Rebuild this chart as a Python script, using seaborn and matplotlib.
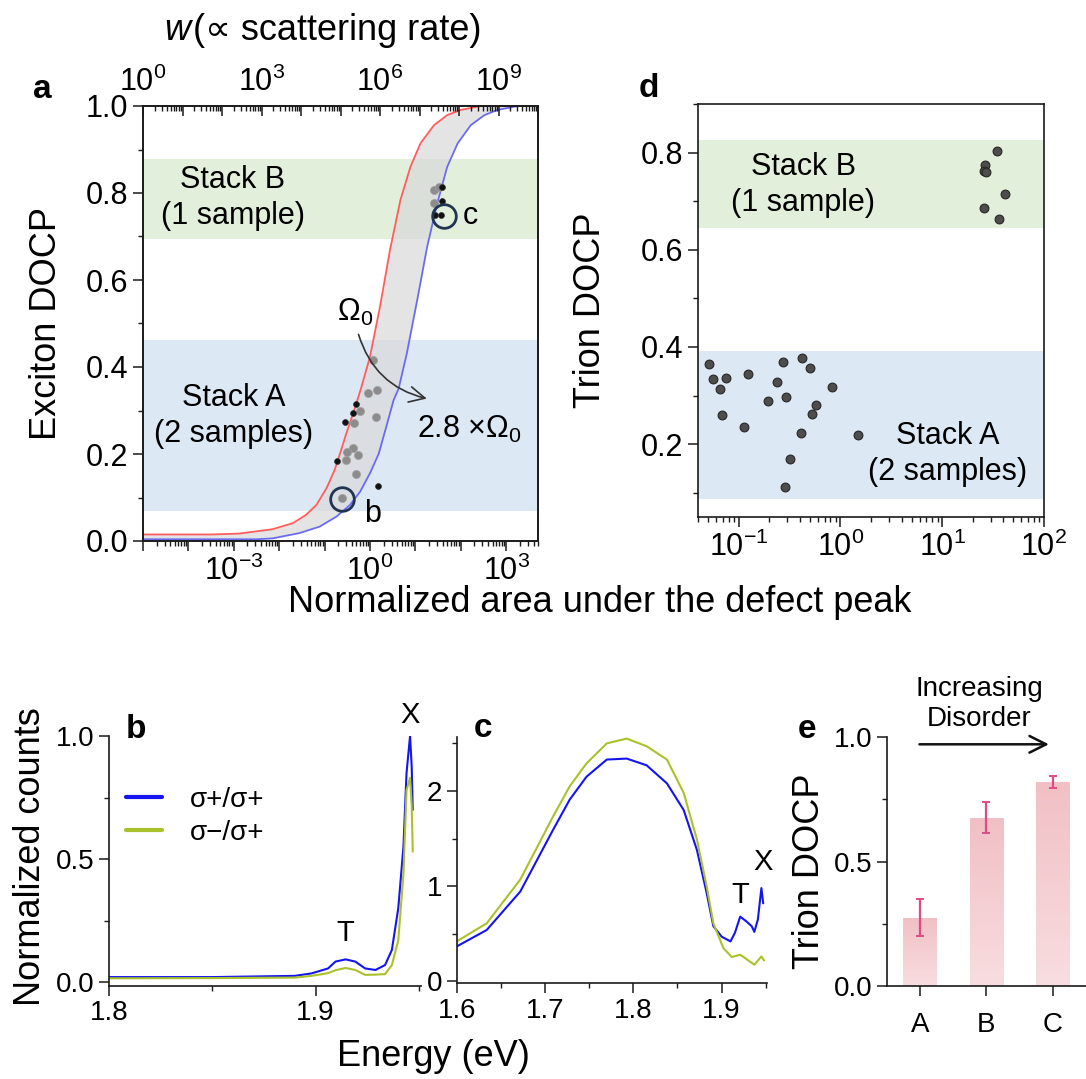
import numpy as np
import pandas as pd
import matplotlib
matplotlib.use("Agg")
import matplotlib.pyplot as plt
import matplotlib.ticker as mticker
from matplotlib.colors import LinearSegmentedColormap
import seaborn as sns

# ---------------- data ----------------
# panel a: model curves, x given as log10(normalized defect area)
a_red_logx = [-5.0, -3.5, -2.89, -2.15, -1.70, -1.41, -1.18, -0.96, -0.78, -0.67, -0.52,
              -0.37, -0.20, 0.0, 0.22, 0.44, 0.67, 0.89, 1.11, 1.41, 1.70, 2.0, 2.44, 3.7]
a_red_y = [0.015, 0.015, 0.017, 0.027, 0.041, 0.06, 0.083, 0.121, 0.163, 0.198, 0.248,
           0.294, 0.35, 0.424, 0.539, 0.669, 0.784, 0.860, 0.914, 0.956, 0.979, 0.991, 1.0, 1.0]
a_blue_logx = [-5.0, -2.5, -2.15, -1.56, -1.11, -0.74, -0.44, -0.22, 0.0, 0.19, 0.37, 0.52,
               0.63, 0.81, 1.04, 1.26, 1.48, 1.70, 1.93, 2.22, 2.52, 2.81, 3.26, 3.7]
a_blue_y = [0.004, 0.004, 0.006, 0.018, 0.033, 0.056, 0.083, 0.113, 0.156, 0.20, 0.267, 0.324,
            0.35, 0.431, 0.554, 0.677, 0.776, 0.860, 0.914, 0.956, 0.979, 0.991, 1.0, 1.0]

# panel a: measured samples
a_grey_logx = [1.41, 1.52, 1.41, 0.07, -0.05, 0.16, -0.22, 0.13, -0.36, -0.37, -0.50, -0.26, -0.53, -0.31, -0.62]
a_grey_y = [0.808, 0.813, 0.778, 0.416, 0.340, 0.347, 0.300, 0.286, 0.272, 0.213, 0.205, 0.198, 0.186, 0.153, 0.098]
a_black_logx = [1.58, 1.59, 1.56, 1.44, -0.31, -0.37, -0.56, -0.72, 0.18]
a_black_y = [0.813, 0.782, 0.749, 0.749, 0.315, 0.295, 0.274, 0.185, 0.126]
a_circled_logx = [-0.61, 1.62]
a_circled_y = [0.096, 0.748]
a_circled_lab = ["b", "c"]

# panel d: trion DOCP vs normalized defect area
d_stackB_x = [34.3, 26.3, 25.5, 26.9, 41.1, 25.5, 36.3]
d_stackB_y = [0.803, 0.774, 0.763, 0.761, 0.715, 0.686, 0.664]
d_stackA_x = [0.0514, 0.0565, 0.0755, 0.0663, 0.0692, 0.113, 0.124, 0.271, 0.24, 0.193,
              0.293, 0.42, 0.498, 0.58, 0.527, 0.414, 0.82, 0.318, 0.288, 1.5]
d_stackA_y = [0.364, 0.335, 0.337, 0.314, 0.259, 0.236, 0.344, 0.370, 0.327, 0.288,
              0.296, 0.377, 0.356, 0.281, 0.263, 0.223, 0.317, 0.170, 0.112, 0.218]

# shaded stack ranges (low, high)
a_band_A = (0.07, 0.462)
a_band_B = (0.695, 0.879)
d_band_A = (0.088, 0.392)
d_band_B = (0.645, 0.826)

# panel b: PL spectra, sample b
b_energy = [1.800, 1.850, 1.890, 1.898, 1.906, 1.9096, 1.9145, 1.9192, 1.924, 1.929, 1.9336,
            1.9369, 1.940, 1.9425, 1.944, 1.9457, 1.9465, 1.947]
b_copol = [0.02, 0.02, 0.025, 0.035, 0.055, 0.083, 0.092, 0.083, 0.055, 0.049, 0.069,
           0.13, 0.30, 0.55, 0.85, 1.0, 0.876, 0.70]
b_cross = [0.015, 0.016, 0.018, 0.025, 0.036, 0.048, 0.057, 0.049, 0.029, 0.030, 0.032,
           0.069, 0.17, 0.44, 0.78, 0.83, 0.72, 0.53]

# panel c: PL spectra, sample c
c_energy_cross = [1.600, 1.634, 1.672, 1.709, 1.728, 1.747, 1.770, 1.7925, 1.815, 1.838, 1.857,
                  1.872, 1.883, 1.8906, 1.902, 1.9114, 1.921, 1.928, 1.937, 1.945, 1.948]
c_cross = [0.42, 0.61, 1.07, 1.73, 2.05, 2.29, 2.50, 2.55, 2.47, 2.33, 1.98,
           1.49, 1.00, 0.61, 0.35, 0.256, 0.28, 0.235, 0.175, 0.262, 0.22]
c_energy_copol = [1.600, 1.634, 1.672, 1.709, 1.728, 1.747, 1.770, 1.7925, 1.815, 1.838, 1.857,
                  1.872, 1.883, 1.8906, 1.900, 1.910, 1.915, 1.921, 1.928, 1.934, 1.937,
                  1.941, 1.945, 1.947]
c_copol = [0.367, 0.54, 0.944, 1.59, 1.91, 2.15, 2.33, 2.34, 2.27, 2.08, 1.80,
           1.38, 0.93, 0.58, 0.47, 0.42, 0.51, 0.68, 0.63, 0.58, 0.52,
           0.65, 0.98, 0.82]

# panel e: trion DOCP per stack
e_stacks = ["A", "B", "C"]
e_docp = [0.274, 0.676, 0.821]
e_err = [0.075, 0.062, 0.025]

pol_labels = ["\u03c3+/\u03c3+", "\u03c3\u2212/\u03c3+"]

# ---------------- style ----------------
sns.set_style("ticks")
plt.rcParams["font.family"] = ["Liberation Sans", "DejaVu Sans"]
plt.rcParams["mathtext.fontset"] = "custom"
plt.rcParams["mathtext.rm"] = "Liberation Sans"
plt.rcParams["mathtext.it"] = "Liberation Sans:italic"
plt.rcParams["mathtext.bf"] = "Liberation Sans:bold"
plt.rcParams["axes.linewidth"] = 1.2
plt.rcParams["axes.edgecolor"] = "#1a1a1a"
plt.rcParams["text.color"] = "black"
plt.rcParams["axes.labelcolor"] = "black"

TICK_BIG = 22
TICK = 20
LAB = 26
W, H = 1086, 1079
fig = plt.figure(figsize=(W / 100, H / 100), dpi=100)


def px_axes(l, t, r, b):
    return fig.add_axes([l / W, 1 - b / H, (r - l) / W, (b - t) / H])


def ftext(x, y, s, **kw):
    fig.text(x / W, 1 - y / H, s, **kw)


def style_ticks(ax, which_dir="out", size=TICK):
    ax.tick_params(axis="both", which="major", direction=which_dir, length=7, width=1.1,
                   labelsize=size, color="#1a1a1a", labelcolor="black")
    ax.tick_params(axis="both", which="minor", direction=which_dir, length=3.5, width=1.0,
                   color="#1a1a1a")


def log_label_every(step):
    def fmt(v, pos):
        k = int(round(np.log10(v)))
        return f"$10^{{{k}}}$" if k % step == 0 else ""
    return mticker.FuncFormatter(fmt)


# ---------------- panel a ----------------
ax_a = px_axes(143, 106, 538, 541)
ax_a.set_xscale("log")
ax_a.axhspan(*a_band_B, color="#e2efda", lw=0, zorder=0)
ax_a.axhspan(*a_band_A, color="#dde8f5", lw=0, zorder=0)

xr = 10 ** np.array(a_red_logx)
xb = 10 ** np.array(a_blue_logx)
ax_a.fill(np.r_[xr, xb[::-1]], np.r_[a_red_y, a_blue_y[::-1]], color="#d9d9d9", alpha=0.7,
          lw=0, zorder=1)
sns.lineplot(x=xr, y=a_red_y, color="#ff5e5e", lw=1.3, sort=False, estimator=None, ax=ax_a, zorder=2)
sns.lineplot(x=xb, y=a_blue_y, color="#6b6bf2", lw=1.3, sort=False, estimator=None, ax=ax_a, zorder=2)
sns.scatterplot(x=10 ** np.array(a_grey_logx), y=a_grey_y, color="#8c8c8c", s=34,
                edgecolor="#a0a0a0", linewidth=0.5, ax=ax_a, zorder=3)
sns.scatterplot(x=10 ** np.array(a_black_logx), y=a_black_y, color="#111111", s=18,
                edgecolor="#333333", linewidth=0.5, ax=ax_a, zorder=4)
ax_a.plot(10 ** np.array(a_circled_logx), a_circled_y, ls="none", marker="o", ms=17,
          mfc="none", mec="#1f3552", mew=2, zorder=5)
ax_a.text(10 ** 0.05, 0.062, a_circled_lab[0], fontsize=22, ha="center", va="center")
ax_a.text(10 ** 2.2, 0.748, a_circled_lab[1], fontsize=22, ha="center", va="center")

ax_a.text(10 ** -3.02, 0.788, "Stack B\n(1 sample)", fontsize=22, ha="center", va="center",
          linespacing=1.25)
ax_a.text(10 ** -3.0, 0.287, "Stack A\n(2 samples)", fontsize=22, ha="center", va="center",
          linespacing=1.25)
ax_a.text(10 ** -0.33, 0.526, r"$\Omega_0$", fontsize=22, ha="center", va="center")
ax_a.text(10 ** 2.18, 0.257, r"2.8 $\times\Omega_0$", fontsize=22, ha="center", va="center")
ax_a.annotate("", xy=(10 ** 1.31, 0.326), xytext=(10 ** -0.27, 0.481),
              arrowprops=dict(arrowstyle="->", lw=1.2, color="#333333", mutation_scale=28,
                              connectionstyle="arc3,rad=0.3"))

ax_a.set_xlim(1e-5, 10 ** 3.7)
ax_a.set_ylim(0, 1)
ax_a.xaxis.set_major_locator(mticker.FixedLocator([10.0 ** k for k in range(-5, 4)]))
ax_a.xaxis.set_major_formatter(log_label_every(3))
ax_a.xaxis.set_minor_locator(mticker.LogLocator(base=10, subs=np.arange(2, 10), numticks=100))
ax_a.xaxis.set_minor_formatter(mticker.NullFormatter())
ax_a.yaxis.set_major_locator(mticker.MultipleLocator(0.2))
ax_a.yaxis.set_minor_locator(mticker.MultipleLocator(0.1))
ax_a.yaxis.set_major_formatter(mticker.FormatStrFormatter("%.1f"))
style_ticks(ax_a, size=TICK_BIG)
ax_a.set_ylabel("Exciton DOCP", fontsize=LAB)
ax_a.yaxis.set_label_coords(-0.2, 0.5)

ax_top = ax_a.twiny()
ax_top.set_xscale("log")
ax_top.set_xlim(1, 1e10)
ax_top.xaxis.set_major_locator(mticker.FixedLocator([10.0 ** k for k in range(0, 11)]))
ax_top.xaxis.set_major_formatter(log_label_every(3))
ax_top.xaxis.set_minor_locator(mticker.LogLocator(base=10, subs=np.arange(2, 10), numticks=100))
ax_top.xaxis.set_minor_formatter(mticker.NullFormatter())
style_ticks(ax_top, "in", size=TICK_BIG)
ax_top.tick_params(axis="x", which="major", pad=6)

ftext(190, 30, "w", fontsize=LAB, style="italic", ha="right", va="center")
ftext(193, 30, "(\u221d scattering rate)", fontsize=LAB, ha="left", va="center")

# ---------------- panel d ----------------
ax_d = px_axes(698, 104, 1044, 517)
ax_d.set_xscale("log")
ax_d.axhspan(*d_band_B, color="#e2efda", lw=0, zorder=0)
ax_d.axhspan(*d_band_A, color="#dde8f5", lw=0, zorder=0)
d_df = pd.DataFrame({"area": d_stackA_x + d_stackB_x, "docp": d_stackA_y + d_stackB_y})
sns.scatterplot(data=d_df, x="area", y="docp", color="#4d4d4d", s=40, edgecolor="#262626",
                linewidth=0.8, ax=ax_d, zorder=3)
ax_d.text(0.43, 0.734, "Stack B\n(1 sample)", fontsize=22, ha="center", va="center",
          linespacing=1.25)
ax_d.text(11.4, 0.180, "Stack A\n(2 samples)", fontsize=22, ha="center", va="center",
          linespacing=1.25)
ax_d.set_xlim(0.04, 100)
ax_d.set_ylim(0.05, 0.9)
ax_d.xaxis.set_major_locator(mticker.FixedLocator([0.1, 1, 10, 100]))
ax_d.xaxis.set_major_formatter(log_label_every(1))
ax_d.xaxis.set_minor_locator(mticker.LogLocator(base=10, subs=np.arange(2, 10), numticks=100))
ax_d.xaxis.set_minor_formatter(mticker.NullFormatter())
ax_d.yaxis.set_major_locator(mticker.MultipleLocator(0.2))
ax_d.yaxis.set_minor_locator(mticker.MultipleLocator(0.1))
ax_d.yaxis.set_major_formatter(mticker.FormatStrFormatter("%.1f"))
style_ticks(ax_d, size=TICK_BIG)
ax_d.set_xlabel("")
ax_d.set_ylabel("Trion DOCP", fontsize=LAB)
ax_d.yaxis.set_label_coords(-0.26, 0.5)
ax_a.set_xlabel("")

ftext(600, 603, "Normalized area under the defect peak", fontsize=LAB, ha="center", va="center")

# ---------------- panel b ----------------
pal = {pol_labels[0]: "#1414f0", pol_labels[1]: "#a9c22b"}
ax_b = px_axes(109, 736, 421, 985.7)
b_df = pd.DataFrame({"energy": b_energy * 2, "counts": b_copol + b_cross,
                     "pol": [pol_labels[0]] * len(b_energy) + [pol_labels[1]] * len(b_energy)})
sns.lineplot(data=b_df, x="energy", y="counts", hue="pol", palette=pal, lw=1.5,
             estimator=None, ax=ax_b)
ax_b.set_xlim(1.8, 1.951)
ax_b.set_ylim(-0.015, 1.0)
ax_b.xaxis.set_major_locator(mticker.MultipleLocator(0.1))
ax_b.xaxis.set_minor_locator(mticker.MultipleLocator(0.05))
ax_b.yaxis.set_major_locator(mticker.MultipleLocator(0.5))
ax_b.yaxis.set_minor_locator(mticker.MultipleLocator(0.25))
ax_b.yaxis.set_major_formatter(mticker.FormatStrFormatter("%.1f"))
sns.despine(ax=ax_b)
style_ticks(ax_b)
ax_b.set_xlabel("")
ax_b.set_ylabel("Normalized counts", fontsize=LAB)
ax_b.yaxis.set_label_coords(-0.195, 0.515)
leg = ax_b.legend(frameon=False, fontsize=20, loc="upper left", bbox_to_anchor=(0.02, 0.84),
                  handlelength=1.3, handletextpad=1.0, labelspacing=0.25, borderaxespad=0)
for ln in leg.get_lines():
    ln.set_linewidth(3)
ax_b.text(1.9457, 1.085, "X", fontsize=21, ha="center", va="center", clip_on=False)
ax_b.text(1.9144, 0.198, "T", fontsize=21, ha="center", va="center")

# ---------------- panel c ----------------
ax_c = px_axes(456.7, 736.7, 766.7, 983.3)
c_df = pd.DataFrame({"energy": c_energy_copol + c_energy_cross, "counts": c_copol + c_cross,
                     "pol": [pol_labels[0]] * len(c_energy_copol) + [pol_labels[1]] * len(c_energy_cross)})
sns.lineplot(data=c_df, x="energy", y="counts", hue="pol", palette=pal, lw=1.5,
             estimator=None, legend=False, ax=ax_c)
ax_c.set_xlim(1.6, 1.951)
ax_c.set_ylim(-0.02, 2.57)
ax_c.xaxis.set_major_locator(mticker.MultipleLocator(0.1))
ax_c.xaxis.set_minor_locator(mticker.MultipleLocator(0.05))
ax_c.yaxis.set_major_locator(mticker.MultipleLocator(1))
ax_c.yaxis.set_minor_locator(mticker.MultipleLocator(0.5))
sns.despine(ax=ax_c)
style_ticks(ax_c)
ax_c.set_xlabel("")
ax_c.set_ylabel("")
ax_c.text(1.9208, 0.91, "T", fontsize=21, ha="center", va="center")
ax_c.text(1.9472, 1.249, "X", fontsize=21, ha="center", va="center", clip_on=False)

ftext(433, 1057, "Energy (eV)", fontsize=LAB, ha="center", va="center")

# ---------------- panel e ----------------
ax_e = px_axes(886.7, 737.3, 1086, 985.7)
sns.barplot(x=e_stacks, y=e_docp, color="#f4cbcf", saturation=1, width=0.5, ax=ax_e, zorder=1)
grad = np.linspace(0, 1, 64).reshape(-1, 1)
cmap = LinearSegmentedColormap.from_list("pinkgrad", ["#f8dde0", "#f1c0c5"])
for patch in ax_e.patches:
    x0, w0, h0 = patch.get_x(), patch.get_width(), patch.get_height()
    im = ax_e.imshow(grad, extent=[x0, x0 + w0, 0, h0], origin="lower", aspect="auto",
                     cmap=cmap, zorder=1.5)
    im.set_clip_path(patch)
ax_e.errorbar(x=range(len(e_stacks)), y=e_docp, yerr=e_err, fmt="none", ecolor="#e04b86",
              elinewidth=1.6, capsize=3, capthick=1.4, zorder=3)
ax_e.set_xlim(-0.5, 2.5)
ax_e.set_ylim(0, 1.0)
ax_e.yaxis.set_major_locator(mticker.MultipleLocator(0.5))
ax_e.yaxis.set_minor_locator(mticker.MultipleLocator(0.25))
ax_e.yaxis.set_major_formatter(mticker.FormatStrFormatter("%.1f"))
sns.despine(ax=ax_e)
style_ticks(ax_e)
ax_e.tick_params(axis="x", which="major", pad=12)
ax_e.set_ylabel("Trion DOCP", fontsize=LAB)
ax_e.yaxis.set_label_coords(-0.30, 0.46)
ax_e.annotate("", xy=(1051.7 / W, 1 - 744.3 / H), xytext=(916.7 / W, 1 - 744.3 / H),
              xycoords="figure fraction", textcoords="figure fraction", annotation_clip=False,
              arrowprops=dict(arrowstyle="->", lw=1.8, color="#111111", mutation_scale=30))
ftext(979, 704, "Increasing\nDisorder", fontsize=20, ha="center", va="center", linespacing=1.2)

# ---------------- panel letters ----------------
for lab, x, y in [("a", 42.5, 97.5), ("d", 649, 97), ("b", 135.6, 738), ("c", 482.7, 737),
                  ("e", 806.7, 738)]:
    ftext(x, y, lab, fontsize=24, fontweight="bold", ha="center", va="baseline")

fig.savefig("out.png", dpi=100)
